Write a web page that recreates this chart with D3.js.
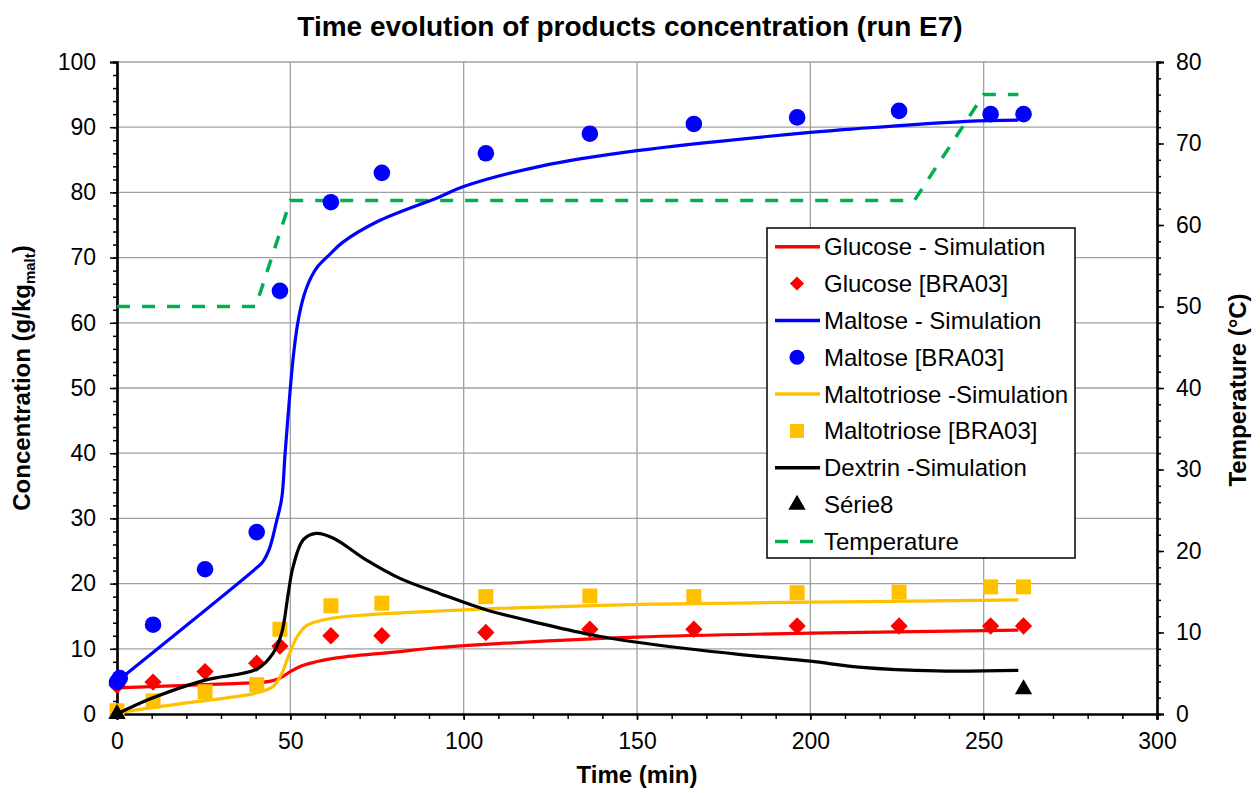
<!DOCTYPE html>
<html>
<head>
<meta charset="utf-8">
<script src="https://cdn.jsdelivr.net/npm/d3@7"></script>
<style>
  body { margin: 0; background: #fff; }
  text { font-family: "Liberation Sans", Arial, sans-serif; }
</style>
</head>
<body>
<svg id="chart" width="1260" height="793"></svg>
<script>
// simulation curves (time in min, concentration in g/kg malt)
var glucoseSimT = [0, 20, 40, 44, 47, 50, 54, 62, 80, 93, 110, 150, 200, 260];
var glucoseSimC = [4.0, 4.4, 4.8, 5.0, 5.5, 6.5, 7.5, 8.5, 9.5, 10.2, 10.8, 11.8, 12.4, 12.85];

var maltoseSimT = [0, 40, 42, 44, 46, 47.5, 48.5, 50, 51, 52, 53, 54, 55, 56, 58, 61.4, 65, 75, 93, 100, 122, 150, 200, 214, 245, 260];
var maltoseSimC = [5, 22.3, 23.3, 25.4, 29.5, 33, 40, 50, 55.5, 59.5, 62.3, 64.3, 65.8, 67, 68.7, 70.5, 72.3, 75.5, 79.3, 80.9, 84.0, 86.4, 89.2, 89.8, 90.9, 91.1];

var maltotrioseSimT = [0, 20, 40, 45, 47.6, 49.4, 51.9, 54.8, 62.3, 72, 93, 110, 150, 209, 260];
var maltotrioseSimC = [0.2, 1.7, 3.2, 4.2, 6.3, 8.8, 11.8, 13.6, 14.7, 15.2, 15.8, 16.2, 16.8, 17.2, 17.5];

var dextrinSimT = [0, 10, 25.4, 40.4, 45, 47.5, 49.4, 50.8, 53.7, 57.4, 62.3, 72, 81.6, 93, 106.4, 122, 136.4, 150, 180, 200, 214, 236.5, 260];
var dextrinSimC = [0, 2.4, 5.2, 6.9, 9.3, 12.4, 18.5, 22.6, 26.7, 27.7, 27, 23.6, 20.8, 18.5, 16, 13.9, 12.2, 11.0, 9.1, 8.1, 7.2, 6.6, 6.7];

// temperature profile (right axis, degC)
var tempT = [0, 40, 50, 230, 250, 260];
var tempV = [50, 50, 63, 63, 76, 76];

// experimental points [BRA03]
var glucoseT = [0, 10.4, 25.4, 40.3, 47, 61.7, 76.4, 106.4, 136.4, 166.4, 196.2, 225.6, 252, 261.5];
var glucoseC = [4.4, 4.9, 6.5, 7.8, 10.4, 12.0, 12.0, 12.5, 13.0, 13.0, 13.5, 13.5, 13.5, 13.5];
var maltoseT = [0, 0.8, 10.4, 25.4, 40.3, 47, 61.7, 76.4, 106.4, 136.4, 166.4, 196.2, 225.6, 252, 261.5];
var maltoseC = [4.9, 5.5, 13.7, 22.2, 27.9, 64.9, 78.5, 83, 86, 89, 90.5, 91.5, 92.5, 92, 92];
var maltotrioseT = [0, 10.4, 25.4, 40.3, 47, 61.7, 76.4, 106.4, 136.4, 166.4, 196.2, 225.6, 252, 261.5];
var maltotrioseC = [0.5, 2.0, 3.4, 4.5, 13.0, 16.6, 17.0, 18.0, 18.1, 18.0, 18.6, 18.7, 19.5, 19.5];
var serie8T = [0, 261.5];
var serie8C = [0, 3.8];

var legendLabels = ["Glucose - Simulation", "Glucose [BRA03]", "Maltose - Simulation", "Maltose [BRA03]",
  "Maltotriose -Simulation", "Maltotriose [BRA03]", "Dextrin -Simulation", "Série8", "Temperature"];

var xTicks = [0, 50, 100, 150, 200, 250, 300];
var yTicks = [0, 10, 20, 30, 40, 50, 60, 70, 80, 90, 100];
var y2Ticks = [0, 10, 20, 30, 40, 50, 60, 70, 80];

function zip(a, b) { return a.map(function(v, i) { return [v, b[i]]; }); }

var svg = d3.select("#chart");
var plotLeft = 117, plotRight = 1157, plotTop = 62, plotBottom = 714;

var x = d3.scaleLinear().domain([0, 300]).range([plotLeft, plotRight]);
var y = d3.scaleLinear().domain([0, 100]).range([plotBottom, plotTop]);
var y2 = d3.scaleLinear().domain([0, 80]).range([plotBottom, plotTop]);

// grid
svg.append("g").selectAll("line").data(xTicks.slice(1, -1)).enter().append("line")
  .attr("x1", function(d) { return x(d); }).attr("x2", function(d) { return x(d); })
  .attr("y1", plotTop).attr("y2", plotBottom)
  .attr("stroke", "#a0a0a0").attr("stroke-width", 1.3);
svg.append("g").selectAll("line").data(yTicks.slice(1)).enter().append("line")
  .attr("x1", plotLeft).attr("x2", plotRight)
  .attr("y1", function(d) { return y(d); }).attr("y2", function(d) { return y(d); })
  .attr("stroke", "#a0a0a0").attr("stroke-width", 1.3);

// axes
var xAxis = svg.append("g").attr("transform", "translate(0," + plotBottom + ")")
  .call(d3.axisBottom(x).tickValues(d3.range(0, 301, 10)).tickSize(5).tickFormat(""));
xAxis.append("g").call(d3.axisBottom(x).tickValues(xTicks).tickSize(6).tickPadding(22).tickFormat(d3.format("d")));

var yAxis = svg.append("g").attr("transform", "translate(" + plotLeft + ",0)")
  .call(d3.axisLeft(y).tickValues(d3.range(0, 101, 2)).tickSize(4).tickFormat(""));
yAxis.append("g").call(d3.axisLeft(y).tickValues(yTicks).tickSize(7).tickPadding(14).tickFormat(d3.format("d")));

var y2Axis = svg.append("g").attr("transform", "translate(" + plotRight + ",0)")
  .call(d3.axisRight(y2).tickValues(d3.range(0, 81, 2)).tickSize(4).tickFormat(""));
y2Axis.append("g").call(d3.axisRight(y2).tickValues(y2Ticks).tickSize(7).tickPadding(12).tickFormat(d3.format("d")));

svg.selectAll(".domain").attr("stroke", "#000").attr("stroke-width", 2.2);
svg.selectAll(".tick line").attr("stroke", "#000").attr("stroke-width", 1.5);
svg.selectAll(".tick text").attr("font-size", 23).attr("font-family", "Liberation Sans, Arial, sans-serif").attr("fill", "#000");
xAxis.selectAll(".tick text").attr("dy", "0.3em");

// titles
svg.append("text").attr("x", 630).attr("y", 36).attr("text-anchor", "middle")
  .attr("font-size", 28).attr("font-weight", "bold").text("Time evolution of products concentration (run E7)");
svg.append("text").attr("x", 637).attr("y", 783).attr("text-anchor", "middle")
  .attr("font-size", 24).attr("font-weight", "bold").text("Time (min)");
var yl = svg.append("text").attr("transform", "translate(30,378) rotate(-90)").attr("text-anchor", "middle")
  .attr("font-size", 24).attr("font-weight", "bold");
yl.append("tspan").text("Concentration (g/kg");
yl.append("tspan").attr("font-size", 15).attr("dy", 5).text("malt");
yl.append("tspan").attr("dy", -5).text(")");
svg.append("text").attr("transform", "translate(1246,390) rotate(-90)").attr("text-anchor", "middle")
  .attr("font-size", 24).attr("font-weight", "bold").text("Temperature (°C)");

// lines
var line = d3.line().x(function(d) { return x(d[0]); }).y(function(d) { return y(d[1]); }).curve(d3.curveCatmullRom.alpha(0.5));
var line2 = d3.line().x(function(d) { return x(d[0]); }).y(function(d) { return y2(d[1]); });

svg.append("path").datum(zip(tempT, tempV)).attr("d", line2).attr("fill", "none")
  .attr("stroke", "#00b050").attr("stroke-width", 3.5).attr("stroke-dasharray", "13,12");

var symDiamond = d3.symbol().type(d3.symbolSquare).size(150);
var symCircle = d3.symbol().type(d3.symbolCircle).size(Math.PI * 8.3 * 8.3);
var symSquare = d3.symbol().type(d3.symbolSquare).size(15 * 15);
var symTriangle = d3.symbol().type(d3.symbolTriangle).size(130);

function drawLine(t, c, color) {
  svg.append("path").datum(zip(t, c)).attr("d", line).attr("fill", "none")
    .attr("stroke", color).attr("stroke-width", 3.2).attr("stroke-linejoin", "round");
}
function drawPoints(t, c, sym, color, rot) {
  svg.append("g").selectAll("path").data(zip(t, c)).enter().append("path")
    .attr("d", sym)
    .attr("transform", function(d) { return "translate(" + x(d[0]) + "," + y(d[1]) + ")" + (rot ? " rotate(45)" : ""); })
    .attr("fill", color);
}

drawLine(glucoseSimT, glucoseSimC, "#ff0000");
drawPoints(glucoseT, glucoseC, symDiamond, "#ff0000", true);
drawLine(maltoseSimT, maltoseSimC, "#0000ff");
drawPoints(maltoseT, maltoseC, symCircle, "#0000ff", false);
drawLine(maltotrioseSimT, maltotrioseSimC, "#ffc000");
drawPoints(maltotrioseT, maltotrioseC, symSquare, "#ffc000", false);
drawLine(dextrinSimT, dextrinSimC, "#000000");
drawPoints(serie8T, serie8C, symTriangle, "#000000", false);

// legend
var lg = svg.append("g");
lg.append("rect").attr("x", 767).attr("y", 228).attr("width", 308).attr("height", 330)
  .attr("fill", "#fff").attr("stroke", "#000").attr("stroke-width", 1.5);
var legendKinds = [
  {type: "line", color: "#ff0000"}, {type: "diamond", color: "#ff0000"},
  {type: "line", color: "#0000ff"}, {type: "circle", color: "#0000ff"},
  {type: "line", color: "#ffc000"}, {type: "square", color: "#ffc000"},
  {type: "line", color: "#000000"}, {type: "triangle", color: "#000000"},
  {type: "dash", color: "#00b050"}
];
legendLabels.forEach(function(label, i) {
  var cy = 246.7 + i * 36.85;
  var k = legendKinds[i];
  if (k.type === "line" || k.type === "dash") {
    lg.append("line").attr("x1", 775).attr("x2", 820).attr("y1", cy).attr("y2", cy)
      .attr("stroke", k.color).attr("stroke-width", 3.5)
      .attr("stroke-dasharray", k.type === "dash" ? "13,12" : null);
  } else {
    var s = {diamond: d3.symbol().type(d3.symbolSquare).size(100), circle: d3.symbol().type(d3.symbolCircle).size(180),
      square: d3.symbol().type(d3.symbolSquare).size(196), triangle: d3.symbol().type(d3.symbolTriangle).size(130)}[k.type];
    lg.append("path").attr("d", s)
      .attr("transform", "translate(797," + cy + ")" + (k.type === "diamond" ? " rotate(45)" : ""))
      .attr("fill", k.color);
  }
  lg.append("text").attr("x", 824).attr("y", cy).attr("dy", "0.35em")
    .attr("font-size", 24).text(label);
});
</script>
</body>
</html>
